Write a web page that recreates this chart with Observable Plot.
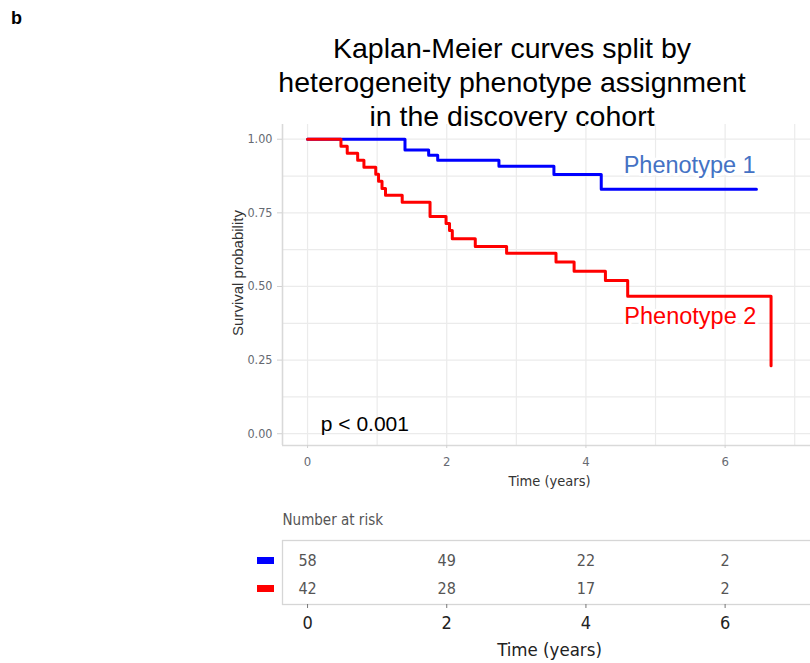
<!DOCTYPE html>
<html>
<head>
<meta charset="utf-8">
<script src="https://cdn.jsdelivr.net/npm/d3@7"></script>
<script src="https://cdn.jsdelivr.net/npm/@observablehq/plot@0.6"></script>
<style>
  html, body { margin: 0; padding: 0; background: #fff; overflow: hidden; }
  #wrap { position: relative; width: 810px; height: 663px; overflow: hidden; background: #fff; font-family: "Liberation Sans", Arial, sans-serif; }
  #panel-letter { position: absolute; left: 11px; top: 8px; font-weight: bold; font-size: 18px; color: #000; }
  #title { position: absolute; left: 212px; width: 600px; top: 31px; text-align: center; font-size: 28.5px; line-height: 34px; color: #000; }
  .plot { position: absolute; left: 0; max-width: none !important; }
</style>
</head>
<body>
<div id="wrap">
  <div id="panel-letter">b</div>
  <div id="title">Kaplan-Meier curves split by<br>heterogeneity phenotype assignment<br>in the discovery cohort</div>
</div>
<script>
// ---- data ----
const groups = ["Phenotype 1", "Phenotype 2"];
const groupColors = ["#0000FF", "#FF0000"];

const p1Time = [0, 1.40, 1.74, 1.87, 2.75, 3.54, 4.22, 6.45];
const p1Surv = [1, 0.963, 0.946, 0.929, 0.908, 0.880, 0.830, 0.830];

const p2Time = [0, 0.48, 0.57, 0.72, 0.81, 0.98, 1.02, 1.07, 1.12, 1.36, 1.76, 1.99, 2.04, 2.08, 2.41, 2.86, 3.57, 3.83, 4.28, 4.60, 6.66];
const p2Surv = [1, 0.976, 0.952, 0.929, 0.905, 0.881, 0.857, 0.833, 0.810, 0.786, 0.738, 0.714, 0.690, 0.662, 0.636, 0.613, 0.583, 0.552, 0.520, 0.467, 0.231];

const xTicks = [0, 2, 4, 6];
const xGridTicks = [0, 1, 2, 3, 4, 5, 6, 7];
const yTicks = [0, 0.25, 0.5, 0.75, 1];
const yGridTicks = [0, 0.125, 0.25, 0.375, 0.5, 0.625, 0.75, 0.875, 1];

const riskTimes = [0, 2, 4, 6];
const risk1 = [58, 49, 22, 2];
const risk2 = [42, 28, 17, 2];

const pValueText = "p < 0.001";
// annotation anchors (data coordinates)
const pValueAt = {x: 0.19, y: 0.031};
const label1At = {x: 5.49, y: 0.912};
const label2At = {x: 5.50, y: 0.398};

// ---- build tables ----
const curves = [
  ...p1Time.map((t, i) => ({group: groups[0], time: t, surv: p1Surv[i]})),
  ...p2Time.map((t, i) => ({group: groups[1], time: t, surv: p2Surv[i]}))
];
const riskData = [
  ...riskTimes.map((t, i) => ({group: groups[0], time: t, n: risk1[i]})),
  ...riskTimes.map((t, i) => ({group: groups[1], time: t, n: risk2[i]}))
];

const xDomain = [-0.36, 7.313];
const yDomain = [-0.04, 1.05];
const narrow = '"Liberation Sans Narrow", "Arial Narrow", "DejaVu Sans Condensed", sans-serif';
const regular = '"Liberation Sans", Arial, sans-serif';

const main = Plot.plot({
  width: 830, height: 500,
  marginLeft: 282, marginRight: 14, marginTop: 124, marginBottom: 55,
  style: {fontFamily: regular, background: "transparent", overflow: "visible", maxWidth: "none"},
  x: {domain: xDomain},
  y: {domain: yDomain},
  color: {domain: groups, range: groupColors},
  marks: [
    Plot.gridX(xGridTicks, {stroke: "#ebebeb", strokeOpacity: 1, strokeWidth: 1.2}),
    Plot.gridY(yGridTicks, {stroke: "#ebebeb", strokeOpacity: 1, strokeWidth: 1.2}),
    Plot.ruleX([xDomain[0]], {stroke: "#d9d9d9", strokeWidth: 1.6}),
    Plot.ruleY([yDomain[0]], {stroke: "#d9d9d9", strokeWidth: 1.6}),
    Plot.axisY({ticks: yTicks, tickFormat: d3.format(".2f"), tickSize: 5, tickPadding: 5,
      fontSize: 12.5, fontFamily: narrow, fill: "#666a72", stroke: "#d0d0d0", label: null}),
    Plot.axisX({ticks: xTicks, tickSize: 3, tickPadding: 8, fontSize: 13, fontFamily: narrow,
      fill: "#666a72", stroke: "#d0d0d0", label: null}),
    Plot.line(curves, {x: "time", y: "surv", z: "group", stroke: "group", curve: "step-after", strokeWidth: 3}),
    Plot.text(["Survival probability"], {frameAnchor: "left", textAnchor: "middle", lineAnchor: "middle", rotate: -90, dx: -44, dy: -12,
      fontSize: 15, fontFamily: regular, fill: "#333"}),
    Plot.text(["Time (years)"], {frameAnchor: "bottom", lineAnchor: "middle", dy: 36, fontSize: 14.5, fontFamily: narrow, fill: "#333"}),
    Plot.text([label1At], {x: "x", y: "y", text: () => groups[0], fontSize: 23.5, fill: "#4472C4",
      stroke: "white", strokeWidth: 6}),
    Plot.text([label2At], {x: "x", y: "y", text: () => groups[1], fontSize: 23.5, fill: "#FF0000",
      stroke: "white", strokeWidth: 6}),
    Plot.text([pValueAt], {x: "x", y: "y", text: () => pValueText, textAnchor: "start", fontSize: 21, fill: "#000"})
  ]
});
main.classList.add("plot");
main.style.top = "0px";
main.style.position = "absolute";
main.style.maxWidth = "none";

const table = Plot.plot({
  width: 830, height: 163,
  marginLeft: 282, marginRight: 14, marginTop: 40, marginBottom: 59,
  style: {fontFamily: narrow, background: "transparent", overflow: "visible", maxWidth: "none"},
  x: {domain: xDomain},
  y: {type: "point", domain: groups, padding: 0, insetTop: 20, insetBottom: 16},
  marks: [
    Plot.frame({stroke: "#d6d6d6", strokeWidth: 1.3}),
    Plot.text(riskData, {x: "time", y: "group", text: "n", fontSize: 16, fill: "#555"}),
    Plot.axisX({ticks: riskTimes, tickSize: 4, tickPadding: 8, fontSize: 18, fill: "#222", stroke: "#777", label: null}),
    Plot.axisY({ticks: [groups[0]], tickSize: 17, dx: -8, stroke: groupColors[0], strokeWidth: 7, tickFormat: () => "", label: null}),
    Plot.axisY({ticks: [groups[1]], tickSize: 17, dx: -8, stroke: groupColors[1], strokeWidth: 7, tickFormat: () => "", label: null}),
    Plot.text(["Number at risk"], {frameAnchor: "top-left", lineAnchor: "middle", dy: -20, textAnchor: "start", fontSize: 15, fill: "#555"}),
    Plot.text(["Time (years)"], {frameAnchor: "bottom", lineAnchor: "middle", dy: 46, fontSize: 18.5, fill: "#222"})
  ]
});
table.classList.add("plot");
table.style.top = "500px";
table.style.position = "absolute";
table.style.maxWidth = "none";

const wrap = document.getElementById("wrap");
wrap.appendChild(main);
wrap.appendChild(table);
</script>
</body>
</html>
